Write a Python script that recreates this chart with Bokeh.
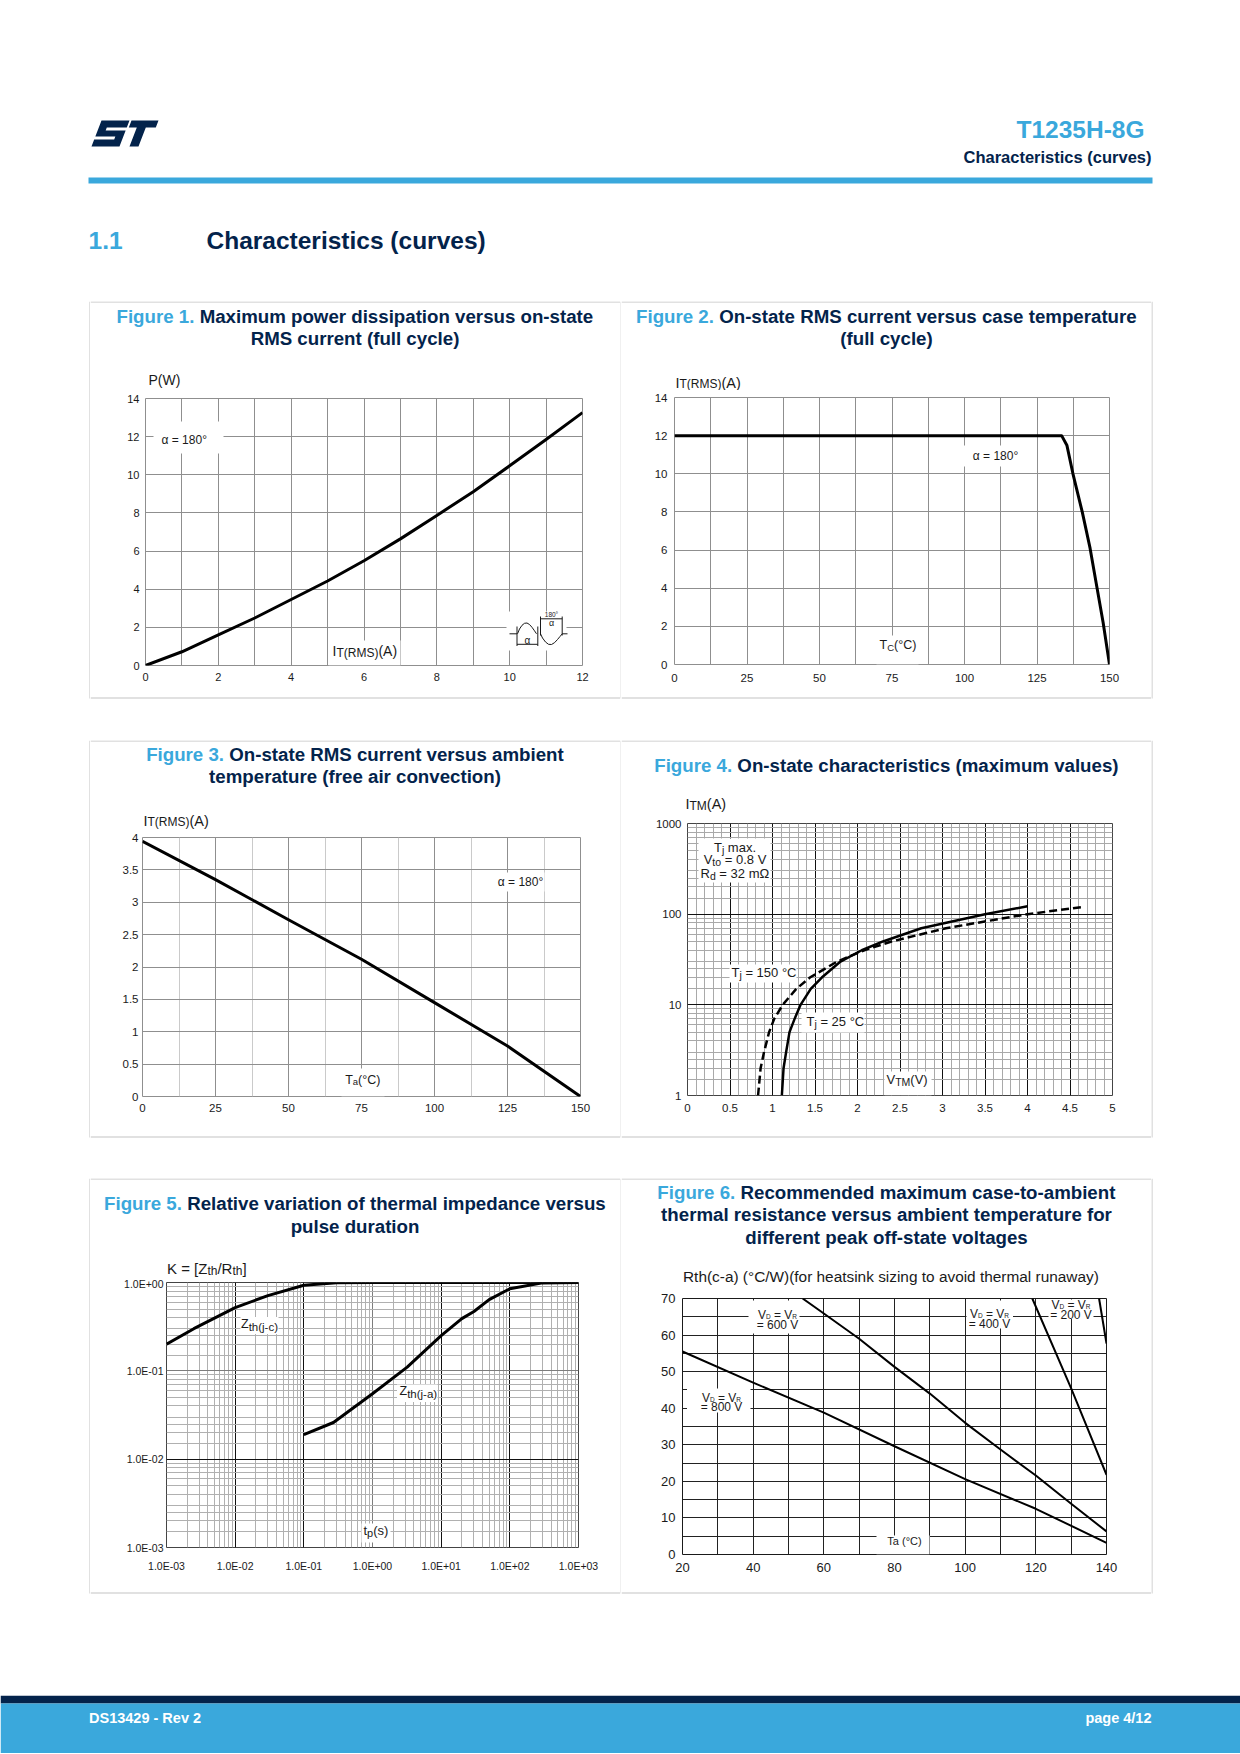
import math
from bokeh.plotting import figure
from bokeh.layouts import row, column
from bokeh.models import Range1d, FixedTicker, Grid, CustomJSTickFormatter
from bokeh.core.properties import value
from bokeh.embed import file_html
from bokeh.resources import INLINE

# ---------------- values ----------------
fig1_it = [0, 1, 2, 3, 4, 5, 6, 7, 8, 9, 10, 11, 12]
fig1_pw = [0.0, 0.72, 1.61, 2.49, 3.46, 4.43, 5.49, 6.64, 7.87, 9.11, 10.47, 11.85, 13.26]
fig1_xticks = [0, 2, 4, 6, 8, 10, 12]
fig1_xlabels = ["0", "2", "4", "6", "8", "10", "12"]
fig1_yticks = [0, 2, 4, 6, 8, 10, 12, 14]
fig1_ylabels = ["0", "2", "4", "6", "8", "10", "12", "14"]

fig2_tc = [0, 133.5, 135.3, 137.4, 140.6, 143.3, 145.6, 147.8, 150]
fig2_it = [12.0, 12.0, 11.5, 10.0, 8.0, 6.1, 4.1, 2.2, 0.0]
fig2_xticks = [0, 25, 50, 75, 100, 125, 150]
fig2_xlabels = ["0", "25", "50", "75", "100", "125", "150"]
fig2_yticks = [0, 2, 4, 6, 8, 10, 12, 14]
fig2_ylabels = ["0", "2", "4", "6", "8", "10", "12", "14"]

fig3_ta = [0, 25, 50, 75, 100, 125, 150]
fig3_it = [3.94, 3.35, 2.73, 2.12, 1.45, 0.78, 0.0]
fig3_xticks = [0, 25, 50, 75, 100, 125, 150]
fig3_xlabels = ["0", "25", "50", "75", "100", "125", "150"]
fig3_yticks = [0, 0.5, 1, 1.5, 2, 2.5, 3, 3.5, 4]
fig3_ylabels = ["0", "0.5", "1", "1.5", "2", "2.5", "3", "3.5", "4"]

fig4_v25 = [1.11, 1.13, 1.16, 1.20, 1.26, 1.33, 1.45, 1.58, 1.80, 2.05, 2.30, 2.75, 3.50, 4.00]
fig4_i25 = [1, 2, 3, 5, 7, 10, 15, 20, 30, 40, 50, 70, 100, 122]
fig4_v150 = [0.83, 0.86, 0.90, 0.96, 1.02, 1.12, 1.28, 1.44, 1.76, 2.08, 2.40, 3.04, 4.00, 4.65]
fig4_i150 = [1, 2, 3, 5, 7, 10, 15, 20, 30, 40, 50, 70, 100, 120]
fig4_xticks = [0, 0.5, 1, 1.5, 2, 2.5, 3, 3.5, 4, 4.5, 5]
fig4_xlabels = ["0", "0.5", "1", "1.5", "2", "2.5", "3", "3.5", "4", "4.5", "5"]
fig4_yticks = [1, 10, 100, 1000]
fig4_ylabels = ["1", "10", "100", "1000"]

fig5_tp_jc = [0.001, 0.0025, 0.01, 0.03, 0.1, 0.3, 1, 10, 100, 1000]
fig5_k_jc = [0.20, 0.30, 0.52, 0.71, 0.93, 0.995, 1.0, 1.0, 1.0, 1.0]
fig5_tp_ja = [0.1, 0.27, 1, 3.2, 10, 20, 30, 50, 100, 300, 1000]
fig5_k_ja = [0.019, 0.026, 0.055, 0.11, 0.25, 0.39, 0.47, 0.64, 0.85, 0.99, 1.0]
fig5_xticks = [0.001, 0.01, 0.1, 1, 10, 100, 1000]
fig5_xlabels = ["1.0E-03", "1.0E-02", "1.0E-01", "1.0E+00", "1.0E+01", "1.0E+02", "1.0E+03"]
fig5_yticks = [0.001, 0.01, 0.1, 1]
fig5_ylabels = ["1.0E-03", "1.0E-02", "1.0E-01", "1.0E+00"]

fig6_ta_800 = [20, 40, 60, 80, 100, 120, 140]
fig6_rth_800 = [55.5, 47.0, 38.8, 29.6, 20.6, 12.5, 3.2]
fig6_ta_600 = [54, 60, 70, 80, 90, 100, 110, 120, 130, 140]
fig6_rth_600 = [70.0, 65.9, 59.0, 51.3, 44.0, 36.0, 28.7, 21.6, 13.9, 6.3]
fig6_ta_400 = [119, 130, 140]
fig6_rth_400 = [70.0, 45.4, 21.8]
fig6_ta_200 = [137.9, 140]
fig6_rth_200 = [70.0, 57.7]
fig6_xticks = [20, 40, 60, 80, 100, 120, 140]
fig6_xlabels = ["20", "40", "60", "80", "100", "120", "140"]
fig6_yticks = [0, 10, 20, 30, 40, 50, 60, 70]
fig6_ylabels = ["0", "10", "20", "30", "40", "50", "60", "70"]

# ---------------- styles ----------------
NAVY = "#03234b"
BLUE = "#3aa8dc"
INK = "#1a1a1a"
BORDER = "#c4c4c4"
GRID = "#8f8f8f"
GRIDL = "#cacaca"
FONT = "Liberation Sans"
TS = 18.7

AR = {' ': 278, '(': 333, ')': 333, '-': 333, '.': 278, '/': 278, '=': 584, '°': 400,
      '[': 278, ']': 278, 'α': 578, 'Ω': 768, ',': 278}
for ch in "0123456789":
    AR[ch] = 556
AR.update(dict(zip("ABCDEFGHIJKLMNOPQRSTUVWXYZ",
                   [667, 667, 722, 722, 667, 611, 778, 722, 278, 500, 667, 556, 833, 722, 778, 667, 778, 722, 667, 611, 722, 667, 944, 667, 667, 611])))
AR.update(dict(zip("abcdefghijklmnopqrstuvwxyz",
                   [556, 556, 500, 556, 556, 278, 556, 556, 222, 222, 500, 222, 833, 556, 556, 556, 556, 333, 500, 278, 556, 500, 722, 500, 500, 500])))
AB = {' ': 278, '(': 333, ')': 333, '-': 333, '.': 278, '/': 278, ',': 278}
for ch in "0123456789":
    AB[ch] = 556
AB.update(dict(zip("ABCDEFGHIJKLMNOPQRSTUVWXYZ",
                   [722, 722, 722, 722, 667, 611, 778, 722, 278, 556, 722, 611, 833, 722, 778, 667, 778, 722, 667, 611, 722, 667, 944, 667, 667, 611])))
AB.update(dict(zip("abcdefghijklmnopqrstuvwxyz",
                   [556, 611, 556, 611, 556, 333, 611, 611, 278, 278, 556, 278, 889, 611, 611, 611, 611, 389, 556, 333, 611, 556, 778, 556, 556, 500])))


def tw(s, size, bold):
    tab = AB if bold else AR
    return sum(tab.get(ch, 556) for ch in s) * size / 1000.0


def ident(v):
    return v


def _txt(p, X, Y, x, y, t, s, c, b, align):
    p.text(x=[X(x)], y=[Y(y)], text=[t], text_font=value(FONT),
           text_font_size=value(f"{s}px"), text_font_style=value("bold" if b else "normal"),
           text_color=value(c), text_align=value(align), text_baseline=value("alphabetic"))


def runs(p, X, Y, x, yc, parts, align="left"):
    """parts: (text, size, drop, color, bold); yc = visual centre of main text (page px)."""
    main = parts[0][1]
    base = yc + 0.01 * main
    if len(parts) == 1:
        t, s, d, c, b = parts[0]
        _txt(p, X, Y, x, base + d, t, s, c, b, align)
        return
    total = sum(tw(t, s, b) for (t, s, d, c, b) in parts)
    if align == "center":
        x -= total / 2.0
    elif align == "right":
        x -= total
    for (t, s, d, c, b) in parts:
        st = t.lstrip(" ")
        x += tw(t[:len(t) - len(st)], s, b)
        _txt(p, X, Y, x, base + d, st, s, c, b, "left")
        x += tw(st, s, b)


def canvas(x0, y0, x1, y1):
    p = figure(width=int(x1 - x0), height=int(y1 - y0), x_range=Range1d(x0, x1), y_range=Range1d(y1, y0),
               toolbar_location=None, output_backend="svg", min_border=0, title=None,
               x_axis_location=None, y_axis_location=None, outline_line_color=None,
               background_fill_color="white", border_fill_color="white", frame_align=False)
    p.center = [r for r in p.center if not isinstance(r, Grid)]
    return p


def box(p, l, r, t, b, color):
    p.quad(left=[l], right=[r], top=[t], bottom=[b], fill_color=color, line_color=None)


def mapper(lo, hi, p0, p1, log):
    def f(px):
        t = (px - p0) / float(p1 - p0)
        if log:
            return 10 ** (math.log10(lo) + t * (math.log10(hi) - math.log10(lo)))
        return lo + t * (hi - lo)
    return f


FMT = ("const i = tv.findIndex(t => Math.abs(t - tick) <= 1e-9 * Math.max(1e-12, Math.abs(t)));"
       " return i >= 0 ? tl[i] : '';")


def make_chart(x0, y0, x1, y1, frame, xr, yr, xt, xl, yt, yl, xlog, ylog, outline, tick_size, xstand, ystand):
    fl, ft, fr, fb = frame
    p = figure(width=x1 - x0, height=y1 - y0,
               x_range=Range1d(xr[0], xr[1]), y_range=Range1d(yr[0], yr[1]),
               x_axis_type="log" if xlog else "linear", y_axis_type="log" if ylog else "linear",
               toolbar_location=None, output_backend="svg", title=None,
               min_border_left=fl - x0, min_border_right=x1 - fr,
               min_border_top=ft - y0, min_border_bottom=y1 - fb,
               background_fill_color="white", border_fill_color="white",
               outline_line_color=outline, outline_line_width=1, frame_align=False)
    p.center = [r for r in p.center if not isinstance(r, Grid)]
    ax = p.xaxis[0]
    ay = p.yaxis[0]
    ax.ticker = FixedTicker(ticks=xt)
    ax.formatter = CustomJSTickFormatter(args=dict(tv=xt, tl=xl), code=FMT)
    ay.ticker = FixedTicker(ticks=yt)
    ay.formatter = CustomJSTickFormatter(args=dict(tv=yt, tl=yl), code=FMT)
    for a in (ax, ay):
        a.axis_line_color = None
        a.major_tick_line_color = None
        a.minor_tick_line_color = None
        a.major_tick_in = 0
        a.major_tick_out = 0
        a.minor_tick_in = 0
        a.minor_tick_out = 0
        a.major_label_text_font = FONT
        a.major_label_text_font_size = f"{tick_size}px"
        a.major_label_text_color = INK
    ax.major_label_standoff = xstand
    ay.major_label_standoff = ystand
    X = mapper(xr[0], xr[1], fl, fr, xlog)
    Y = mapper(yr[0], yr[1], fb, ft, ylog)
    return p, X, Y


def add_grid(p, dim, ticks, color, width=1):
    p.add_layout(Grid(dimension=dim, ticker=FixedTicker(ticks=ticks), grid_line_color=color,
                      grid_line_width=width))


def panel(side, T, B, N, ct, cb, title_lines, title_y, frame, xr, yr, xt, xl, yt, yl,
          xlog=False, ylog=False, outline=GRID, tick_size=11, xstand=7, ystand=6):
    x0, x1 = (90, 620) if side == "L" else (621, 1151)
    cx = 354.5 if side == "L" else 886.0
    tc = canvas(x0, T, x1, ct)
    box(tc, x0, x1, T, T + 1, BORDER)
    for line, y in zip(title_lines, title_y):
        runs(tc, ident, ident, cx, y - 1.5, line, align="center")
    p, X, Y = make_chart(x0, ct, x1, cb, frame, xr, yr, xt, xl, yt, yl, xlog, ylog, outline,
                         tick_size, xstand, ystand)
    bc = canvas(x0, cb, x1, N)
    box(bc, x0, x1, B - 1, B, BORDER)
    return column(tc, p, bc), tc, p, X, Y


def panel_row(T, B, N, left_col, right_col):
    lc = canvas(0, T, 90, N)
    box(lc, 89, 90, T, B, BORDER)
    dv = canvas(620, T, 621, N)
    box(dv, 620, 621, T, B, BORDER)
    rc = canvas(1151, T, 1240, N)
    box(rc, 1151, 1152, T, B, BORDER)
    return row(lc, left_col, dv, right_col, rc)


def wbox(p, X, Y, l, r, t, b):
    p.quad(left=[X(l)], right=[X(r)], top=[Y(t)], bottom=[Y(b)], fill_color="white", line_color=None)


def seg(p, X, Y, pts, w=1):
    p.line([X(a) for a, _ in pts], [Y(b) for _, b in pts], line_width=w, line_color=INK)


def T_(txt):
    return (txt, TS, 0, NAVY, True)


def F_(txt):
    return (txt, TS, 0, BLUE, True)


# ---------------- header ----------------
hd = canvas(0, 0, 1240, 301)
S_u = [(0, 0), (28, 0), (28, 7), (8, 7), (8, 10), (28, 10), (28, 26), (0, 26), (0, 19), (20, 19), (20, 16), (0, 16)]
T_u = [(30, 0), (57, 0), (57, 7), (47, 7), (47, 26), (38, 26), (38, 7), (30, 7)]
hd.patches(xs=[[101 + u - 0.385 * v for u, v in S_u], [101 + u - 0.385 * v for u, v in T_u]],
           ys=[[120 + v for u, v in S_u], [120 + v for u, v in T_u]],
           fill_color=NAVY, line_color=None)
runs(hd, ident, ident, 1144, 128.7, [("T1235H-8G", 24.5, 0, BLUE, True)], align="right")
runs(hd, ident, ident, 1151, 156, [("Characteristics (curves)", 16.5, 0, NAVY, True)], align="right")
box(hd, 88, 1152, 177, 183, BLUE)
runs(hd, ident, ident, 88, 240, [("1.1", 24.5, 0, BLUE, True)])
runs(hd, ident, ident, 206, 240, [("Characteristics (curves)", 24.5, 0, NAVY, True)])

# ---------------- figure 1 ----------------
c1, t1, p1, X1, Y1 = panel(
    "L", 301, 698, 740, 390, 690,
    [[F_("Figure 1."), T_(" Maximum power dissipation versus on-state")], [T_("RMS current (full cycle)")]],
    [317.5, 339.7], (145, 398, 582, 665), (0, 12), (0, 14),
    fig1_xticks, fig1_xlabels, fig1_yticks, fig1_ylabels, xstand=7, ystand=6)
add_grid(p1, 0, list(range(1, 12)), GRID)
add_grid(p1, 1, [2, 4, 6, 8, 10, 12], GRID)
wbox(p1, X1, Y1, 153, 223, 421, 453)
wbox(p1, X1, Y1, 328, 400, 640, 665)
wbox(p1, X1, Y1, 506, 566, 611, 650)
p1.line(fig1_it, fig1_pw, line_width=3, line_color="black", line_join="round")
runs(p1, X1, Y1, 161, 439, [("α = 180°", 12, 0, INK, False)])
runs(p1, X1, Y1, 332, 650, [("I", 14, 0, INK, False), ("T(RMS)", 12, 2, INK, False), ("(A)", 14, 0, INK, False)])
runs(t1, ident, ident, 148, 379, [("P(W)", 14, 0, INK, False)])
# small waveform pictogram
seg(p1, X1, Y1, [(509, 633.3), (516.5, 633.3)])
seg(p1, X1, Y1, [(516.5, 626), (516.5, 645.5)])
seg(p1, X1, Y1, [(537.3, 626), (537.3, 645.5)])
seg(p1, X1, Y1, [(516.5, 643.8), (537.3, 643.8)])
seg(p1, X1, Y1, [(540, 616), (540, 635)])
seg(p1, X1, Y1, [(561.7, 616), (561.7, 635)])
seg(p1, X1, Y1, [(540, 618.3), (561.7, 618.3)])
seg(p1, X1, Y1, [(561.7, 633.3), (567, 633.3)])
seg(p1, X1, Y1, [(517, 633.3), (519, 628.5), (521.5, 624.8), (524, 622.8), (526.5, 622.5), (529, 624),
                 (531.5, 626.8), (534, 630.3), (536, 633.3)])
seg(p1, X1, Y1, [(540, 633.3), (542, 637.5), (545, 641.5), (548, 643.8), (551, 644), (554, 642.2),
                 (557, 639), (559.5, 636), (561.7, 633.3)])
runs(p1, X1, Y1, 527, 639.5, [("α", 10, 0, INK, False)], align="center")
runs(p1, X1, Y1, 551, 614.3, [("180°", 6.5, 0, INK, False)], align="center")
runs(p1, X1, Y1, 551, 622.8, [("α", 9, 0, INK, False)], align="center")

# ---------------- figure 2 ----------------
c2, t2, p2, X2, Y2 = panel(
    "R", 301, 698, 740, 390, 690,
    [[F_("Figure 2."), T_(" On-state RMS current versus case temperature")], [T_("(full cycle)")]],
    [317.5, 339.7], (674, 397, 1109, 664), (0, 150), (0, 14),
    fig2_xticks, fig2_xlabels, fig2_yticks, fig2_ylabels, tick_size=11.5, xstand=9, ystand=7)
add_grid(p2, 0, [12.5 * k for k in range(1, 12)], GRID)
add_grid(p2, 1, [2, 4, 6, 8, 10, 12], GRID)
wbox(p2, X2, Y2, 963, 1026, 445, 466)
wbox(p2, X2, Y2, 876, 918, 635, 664)
p2.line(fig2_tc, fig2_it, line_width=3, line_color="black", line_join="round")
runs(p2, X2, Y2, 995, 455, [("α = 180°", 12, 0, INK, False)], align="center")
runs(p2, X2, Y2, 879, 644.5, [("T", 12.5, 0, INK, False), ("C", 9.5, 2, INK, False), ("(°C)", 12.5, 0, INK, False)])
runs(t2, ident, ident, 675, 382, [("I", 14.5, 0, INK, False), ("T(RMS)", 12, 1.5, INK, False), ("(A)", 14.5, 0, INK, False)])

# ---------------- figure 3 ----------------
c3, t3, p3, X3, Y3 = panel(
    "L", 740, 1137, 1178, 829, 1125,
    [[F_("Figure 3."), T_(" On-state RMS current versus ambient")], [T_("temperature (free air convection)")]],
    [755.5, 777.7], (142, 837, 580, 1096), (0, 150), (0, 4),
    fig3_xticks, fig3_xlabels, fig3_yticks, fig3_ylabels, tick_size=11.5, xstand=7, ystand=4)
add_grid(p3, 0, [12.5, 37.5, 62.5, 87.5, 112.5, 137.5], GRIDL)
add_grid(p3, 0, [25, 50, 75, 100, 125], GRID)
add_grid(p3, 1, [0.5, 1, 1.5, 2, 2.5, 3, 3.5], GRID)
wbox(p3, X3, Y3, 494, 544, 872, 891)
wbox(p3, X3, Y3, 341, 384, 1068, 1096)
p3.line(fig3_ta, fig3_it, line_width=3, line_color="black", line_join="round")
runs(p3, X3, Y3, 520, 881.5, [("α = 180°", 12, 0, INK, False)], align="center")
runs(p3, X3, Y3, 344.7, 1079, [("T", 12.5, 0, INK, False), ("a", 9.5, 2, INK, False), ("(°C)", 12.5, 0, INK, False)])
runs(t3, ident, ident, 143, 820, [("I", 14.5, 0, INK, False), ("T(RMS)", 12, 1.5, INK, False), ("(A)", 14.5, 0, INK, False)])

# ---------------- figure 4 ----------------
c4, t4, p4, X4, Y4 = panel(
    "R", 740, 1137, 1178, 815, 1125,
    [[F_("Figure 4."), T_(" On-state characteristics (maximum values)")]],
    [766.6], (687, 823, 1112, 1095), (0, 5), (1, 1000),
    fig4_xticks, fig4_xlabels, fig4_yticks, fig4_ylabels, ylog=True, outline="#444444",
    tick_size=11.5, xstand=8, ystand=6)
add_grid(p4, 0, [k / 10.0 for k in range(1, 50) if k % 5], "#a9a9a9")
add_grid(p4, 0, [0.5, 1, 1.5, 2, 2.5, 3, 3.5, 4, 4.5], "#111111")
add_grid(p4, 1, [m * 10.0 ** d for d in range(0, 3) for m in (1.5, 2, 2.5, 3, 4, 5, 6, 7, 8, 9)], "#a9a9a9")
add_grid(p4, 1, [10, 100], "#111111")
wbox(p4, X4, Y4, 698, 770, 838, 882)
wbox(p4, X4, Y4, 729, 796, 964, 982)
wbox(p4, X4, Y4, 801, 864, 1012, 1032)
wbox(p4, X4, Y4, 884, 931, 1071, 1095)
p4.line(fig4_v150, fig4_i150, line_width=2.5, line_color="black", line_dash="8 4")
p4.line(fig4_v25, fig4_i25, line_width=2.5, line_color="black", line_join="round")
runs(p4, X4, Y4, 734.5, 846.7, [("T", 13, 0, INK, False), ("j", 10.5, 2.5, INK, False), (" max.", 13, 0, INK, False)], align="center")
runs(p4, X4, Y4, 734.5, 859.2, [("V", 13, 0, INK, False), ("to", 10.5, 2.5, INK, False), (" = 0.8 V", 13, 0, INK, False)], align="center")
runs(p4, X4, Y4, 734.5, 872.5, [("R", 13, 0, INK, False), ("d", 10.5, 2.5, INK, False), (" = 32 mΩ", 13, 0, INK, False)], align="center")
runs(p4, X4, Y4, 731, 971.6, [("T", 13, 0, INK, False), ("j", 10.5, 2.5, INK, False), (" = 150 °C", 13, 0, INK, False)])
runs(p4, X4, Y4, 806, 1021, [("T", 13, 0, INK, False), ("j", 10.5, 2.5, INK, False), (" = 25 °C", 13, 0, INK, False)])
runs(p4, X4, Y4, 886, 1079, [("V", 13, 0, INK, False), ("TM", 10.5, 2.5, INK, False), ("(V)", 13, 0, INK, False)])
runs(t4, ident, ident, 685, 803.5, [("I", 14.5, 0, INK, False), ("TM", 12, 1.5, INK, False), ("(A)", 14.5, 0, INK, False)])

# ---------------- figure 5 ----------------
c5, t5, p5, X5, Y5 = panel(
    "L", 1178, 1593, 1695, 1277, 1580,
    [[F_("Figure 5."), T_(" Relative variation of thermal impedance versus")], [T_("pulse duration")]],
    [1204, 1227], (166, 1282, 578, 1547), (0.001, 1000), (0.001, 1),
    fig5_xticks, fig5_xlabels, fig5_yticks, fig5_ylabels, xlog=True, ylog=True, outline="#444444",
    tick_size=10.5, xstand=12, ystand=3)
add_grid(p5, 0, [m * 10.0 ** d for d in range(-3, 3) for m in range(2, 10)], "#b0b0b0")
add_grid(p5, 0, [1], "#7d7d7d")
add_grid(p5, 0, [0.01, 0.1, 10, 100], "#111111")
add_grid(p5, 1, [m * 10.0 ** d for d in range(-3, 0) for m in (1.5, 2, 2.5, 3, 4, 5, 6, 7, 8, 9)], "#b0b0b0")
add_grid(p5, 1, [0.1], "#7d7d7d")
add_grid(p5, 1, [0.01], "#111111")
wbox(p5, X5, Y5, 240, 278, 1316.5, 1333.5)
wbox(p5, X5, Y5, 396.5, 437, 1384, 1401.5)
wbox(p5, X5, Y5, 361, 390, 1523, 1542)
p5.line(fig5_tp_jc, fig5_k_jc, line_width=3, line_color="black", line_join="round")
p5.line(fig5_tp_ja, fig5_k_ja, line_width=3, line_color="black", line_join="round")
runs(p5, X5, Y5, 240.5, 1323.5, [("Z", 12.5, 0, INK, False), ("th(j-c)", 11.5, 2.5, INK, False)])
runs(p5, X5, Y5, 399, 1390.8, [("Z", 12.5, 0, INK, False), ("th(j-a)", 11.5, 2.5, INK, False)])
runs(p5, X5, Y5, 363, 1530, [("t", 13, 0, INK, False), ("p", 11, 2.5, INK, False), ("(s)", 13, 0, INK, False)])
runs(t5, ident, ident, 166.5, 1267.5, [("K = [Z", 15, 0, INK, False), ("th", 12, 2.5, INK, False), ("/R", 15, 0, INK, False),
                                        ("th", 12, 2.5, INK, False), ("]", 15, 0, INK, False)])

# ---------------- figure 6 ----------------
c6, t6, p6, X6, Y6 = panel(
    "R", 1178, 1593, 1695, 1290, 1585,
    [[F_("Figure 6."), T_(" Recommended maximum case-to-ambient")],
     [T_("thermal resistance versus ambient temperature for")],
     [T_("different peak off-state voltages")]],
    [1193, 1215.7, 1238], (682, 1298, 1106, 1554), (20, 140), (0, 70),
    fig6_xticks, fig6_xlabels, fig6_yticks, fig6_ylabels, outline="#1a1a1a",
    tick_size=13, xstand=8, ystand=7)
add_grid(p6, 0, [30, 40, 50, 60, 70, 80, 90, 100, 110, 120, 130], "#222222")
add_grid(p6, 1, [5, 10, 15, 20, 25, 30, 35, 40, 45, 50, 55, 60, 65], "#222222")
wbox(p6, X6, Y6, 748, 799, 1300, 1333)
wbox(p6, X6, Y6, 966, 1012.5, 1300, 1328)
wbox(p6, X6, Y6, 1048, 1093, 1299, 1318.5)
wbox(p6, X6, Y6, 686.5, 750, 1388, 1412)
wbox(p6, X6, Y6, 876, 929, 1535, 1554)
for xs, ys in ((fig6_ta_800, fig6_rth_800), (fig6_ta_600, fig6_rth_600),
               (fig6_ta_400, fig6_rth_400), (fig6_ta_200, fig6_rth_200)):
    p6.line(xs, ys, line_width=2, line_color="black", line_join="round")


def vdvr(cx, y1, y2, volts):
    runs(p6, X6, Y6, cx, y1, [("V", 12, 0, INK, False), ("D", 6.5, 2, INK, False), (" = V", 12, 0, INK, False),
                              ("R", 6.5, 2, INK, False)], align="center")
    runs(p6, X6, Y6, cx, y2, [("= " + volts, 12, 0, INK, False)], align="center")


vdvr(777, 1314.2, 1324.3, "600 V")
vdvr(989, 1313, 1323, "400 V")
vdvr(1070.5, 1304, 1314, "200 V")
vdvr(721, 1397, 1406.5, "800 V")
runs(p6, X6, Y6, 904, 1540.7, [("Ta (°C)", 11, 0, INK, False)], align="center")
runs(t6, ident, ident, 682.5, 1276, [("Rth(c-a) (°C/W)(for heatsink sizing to avoid thermal runaway)", 15.4, 0, INK, False)])

# ---------------- footer ----------------
ft = canvas(0, 1695, 1240, 1753)
box(ft, 0, 1240, 1695, 1703, NAVY)
box(ft, 0, 1240, 1703, 1753, BLUE)
runs(ft, ident, ident, 88.5, 1717, [("DS13429 - Rev 2", 14.5, 0, "white", True)])
runs(ft, ident, ident, 1151, 1717.5, [("page 4/12", 14.5, 0, "white", True)], align="right")

page = column(hd,
              panel_row(301, 698, 740, c1, c2),
              panel_row(740, 1137, 1178, c3, c4),
              panel_row(1178, 1593, 1695, c5, c6),
              ft)

open("out.html", "w").write(file_html(page, INLINE))
